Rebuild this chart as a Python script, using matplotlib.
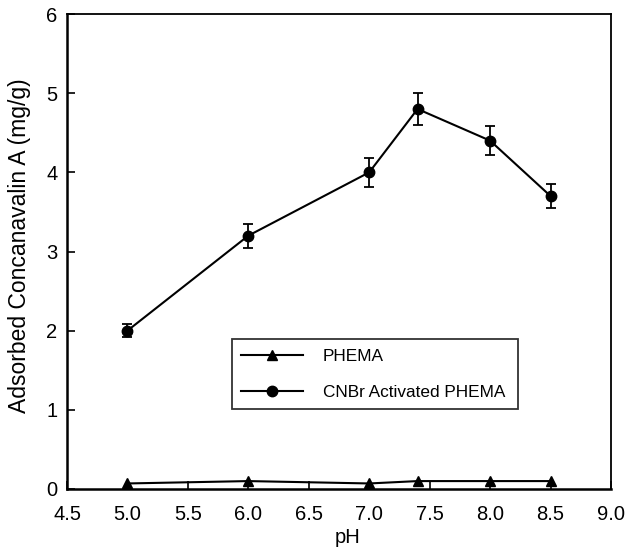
import matplotlib
matplotlib.use("Agg")
import matplotlib.pyplot as plt

plt.rcParams['font.family'] = ['Liberation Sans', 'DejaVu Sans']

ph_phema = [5.0, 6.0, 7.0, 7.4, 8.0, 8.5]
phema = [0.07, 0.1, 0.07, 0.1, 0.1, 0.1]

ph_cnbr = [5.0, 6.0, 7.0, 7.4, 8.0, 8.5]
cnbr = [2.0, 3.2, 4.0, 4.8, 4.4, 3.7]
cnbr_err = [0.08, 0.15, 0.18, 0.2, 0.18, 0.15]

xticks = [4.5, 5.0, 5.5, 6.0, 6.5, 7.0, 7.5, 8.0, 8.5, 9.0]
yticks = [0, 1, 2, 3, 4, 5, 6]

fig = plt.figure(figsize=(6.29, 5.5), dpi=100)
ax = fig.add_axes([67/629, (550-489)/550, 544/629, 475/550])

ax.plot(ph_phema, phema, color='black', marker='^', markersize=7, lw=1.5,
        label='PHEMA', clip_on=False, zorder=3)
ax.errorbar(ph_cnbr, cnbr, yerr=cnbr_err, fmt='none', ecolor='black',
            capsize=3.5, elinewidth=1.3, capthick=1.3, zorder=3)
ax.plot(ph_cnbr, cnbr, color='black', marker='o', markersize=7.5, lw=1.5,
        label='CNBr Activated PHEMA', zorder=4)

ax.set_xlim(4.5, 9.0)
ax.set_ylim(0, 6)
ax.set_xticks(xticks)
ax.set_xticklabels([f"{v:.1f}" for v in xticks])
ax.set_yticks(yticks)
ax.tick_params(direction='in', length=5.5, width=1.2, labelsize=14.5,
               top=False, right=False)
ax.tick_params(axis='x', pad=11.5)
ax.tick_params(axis='y', pad=7)
for s in ['left', 'bottom']:
    ax.spines[s].set_linewidth(1.8)
for s in ['top', 'right']:
    ax.spines[s].set_linewidth(1.3)

ax.set_xlabel('pH', fontsize=14.5)
ax.xaxis.set_label_coords(0.516, -0.082)
ax.set_ylabel('Adsorbed Concanavalin A (mg/g)', fontsize=16.5)
ax.yaxis.set_label_coords(-0.066, 0.513)

leg = ax.legend(loc='lower left', bbox_to_anchor=(0.303, 0.168, 0.526, 0.145),
                mode='expand', fontsize=12.4, handlelength=3.6, frameon=True,
                fancybox=False, edgecolor='black', borderpad=0.55,
                labelspacing=1.2, handletextpad=1.15, borderaxespad=0)
leg.get_frame().set_linewidth(1.3)

fig.savefig('out.png', dpi=100)
